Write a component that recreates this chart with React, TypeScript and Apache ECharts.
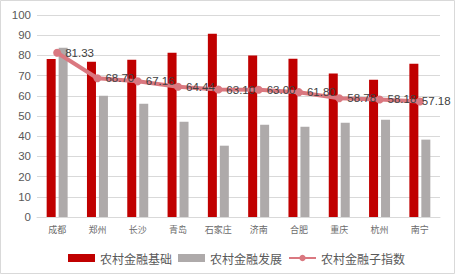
import React, { useEffect, useRef } from "react";
import * as echarts from "echarts";

const categories = ["成都", "郑州", "长沙", "青岛", "石家庄", "济南", "合肥", "重庆", "杭州", "南宁"];
const basis = [78.2, 76.9, 77.9, 81.3, 90.7, 79.9, 78.4, 71.0, 68.0, 75.9];
const development = [83.8, 60.0, 56.1, 47.2, 35.3, 45.7, 44.7, 46.7, 48.2, 38.3];
const subIndex = [81.33, 68.7, 67.16, 64.44, 63.1, 63.0, 61.8, 58.78, 58.18, 57.18];
const yTicks = { min: 0, max: 100, interval: 10 };

const FONT = "'Noto Sans CJK SC', 'Noto Sans', sans-serif";
const NUM_FONT = "'Liberation Sans', Arial, sans-serif";

export default function App() {
  const ref = useRef<HTMLDivElement>(null);
  useEffect(() => {
    if (!ref.current) return;
    const chart = echarts.init(ref.current, null, { renderer: "svg" });
    const lineData = subIndex.map((v, i) =>
      i === subIndex.length - 1 ? { value: v, label: { distance: -2 } } : v
    );
    chart.setOption({
      animation: false,
      backgroundColor: "#ffffff",
      textStyle: { fontFamily: FONT },
      graphic: [
        {
          type: "rect",
          shape: { x: 0.5, y: 0.5, width: 454, height: 273 },
          style: { fill: "none", stroke: "#d9d9d9", lineWidth: 1 },
          silent: true,
        },
      ],
      grid: { left: 37, right: 15, top: 15, bottom: 57 },
      legend: {
        left: 63,
        top: 247,
        itemWidth: 27,
        itemHeight: 8,
        itemGap: 6,
        textStyle: { fontSize: 12, color: "#595959", fontFamily: FONT },
        data: [
          { name: "农村金融基础", icon: "rect" },
          { name: "农村金融发展", icon: "rect" },
          { name: "农村金融子指数" },
        ],
      },
      xAxis: {
        type: "category",
        data: categories,
        axisLine: { lineStyle: { color: "#d9d9d9" } },
        axisTick: { show: false },
        axisLabel: { fontSize: 9, color: "#6b6b6b", margin: 8, fontFamily: FONT },
      },
      yAxis: {
        type: "value",
        min: yTicks.min,
        max: yTicks.max,
        interval: yTicks.interval,
        axisLine: { show: false },
        axisTick: { show: false },
        splitLine: { lineStyle: { color: "#d9d9d9" } },
        axisLabel: { fontSize: 11.5, color: "#595959", margin: 6, fontFamily: NUM_FONT },
      },
      series: [
        {
          name: "农村金融基础",
          type: "bar",
          data: basis,
          barWidth: 9,
          barGap: "33%",
          itemStyle: { color: "#C00000" },
        },
        {
          name: "农村金融发展",
          type: "bar",
          data: development,
          barWidth: 9,
          itemStyle: { color: "#AEAAAA" },
        },
        {
          name: "农村金融子指数",
          type: "line",
          data: lineData,
          symbol: "circle",
          symbolSize: 8,
          lineStyle: { width: 4, color: "#DA7880" },
          itemStyle: { color: "#DA7880" },
          label: {
            show: true,
            position: "right",
            distance: 4,
            fontSize: 11.5,
            color: "#404040",
            fontFamily: NUM_FONT,
            formatter: (p: any) => Number(p.value).toFixed(2),
          },
          z: 5,
        },
      ],
    });
    return () => chart.dispose();
  }, []);
  return (
    <div
      ref={ref}
      style={{ position: "fixed", left: 0, top: 0, width: 455, height: 274 }}
    />
  );
}
